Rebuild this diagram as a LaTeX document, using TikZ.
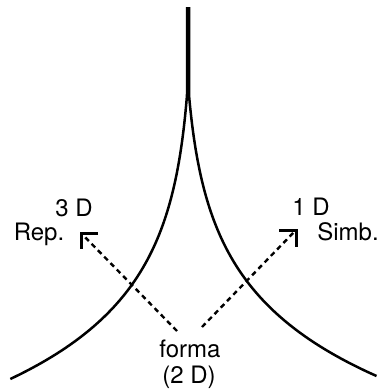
\documentclass[tikz,border=0pt]{standalone}
\usepackage{fontspec}
\setmainfont{TeX Gyre Heros}
\usetikzlibrary{calc}
\tikzset{
  curve/.style={line width=2.5pt, line cap=butt},
  dashline/.style={line width=2.4pt, dash pattern=on 5pt off 4pt},
  headline/.style={line width=3pt, line cap=butt, line join=miter},
  lbl/.style={inner sep=0pt, font=\fontsize{24}{28}\selectfont, anchor=base}
}
\begin{document}
\begin{tikzpicture}[x=1pt,y=-1pt]
\useasboundingbox (0,0) rectangle (383,389);
% cusp curves
\draw[curve] plot[domain=7:379, samples=150, smooth] ({188 - 1 - 7*max(0,exp(0.0115*(\x-95))-1)}, \x);
\draw[curve] plot[domain=7:376, samples=150, smooth] ({188 + 1 + 7.7*max(0,exp(0.0115*(\x-95))-1)}, \x);
% labels
\node[lbl] (threeD) at (74,216) {3 D};
\node[lbl] (rep) at (39,240) {Rep.};
\node[lbl] (oneD) at (311,215) {1 D};
\node[lbl] (simb) at (348,240) {Simb.};
\node[lbl] (forma) at (190,357) {forma};
\node[lbl] (twoD) at (189,383) {(2 D)};
% arrows
\coordinate (lt) at (81,233);
\coordinate (rt) at (296,230);
\coordinate (ls) at (177,331);
\coordinate (rs) at (202,327);
\draw[dashline] (ls) -- (lt);
\draw[dashline] (rs) -- (rt);
\draw[headline] ($(lt)+(17,0)$) -- (lt) -- ($(lt)+(0,16)$);
\draw[headline] ($(rt)+(-17,0)$) -- (rt) -- ($(rt)+(0,17)$);
\end{tikzpicture}
\end{document}
